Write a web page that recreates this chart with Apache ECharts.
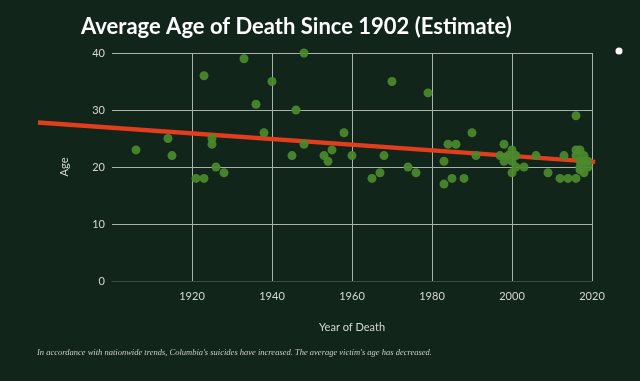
<!DOCTYPE html>
<html><head><meta charset="utf-8">
<script src="https://cdn.jsdelivr.net/npm/echarts@6/dist/echarts.min.js"></script>
<style>html,body{margin:0;padding:0;background:#11251a;}#c{width:640px;height:381px;}</style>
</head><body><div id="c"></div>
<script>
var titleText = 'Average Age of Death Since 1902 (Estimate)';
var footText = "In accordance with nationwide trends, Columbia's suicides have increased. The average victim's age has decreased.";
var xName = 'Year of Death';
var yName = 'Age';
var years = [1906,1914,1915,1921,1923,1923,1925,1925,1926,1928,
  1933,1936,1938,1940,1945,1946,1948,1948,1953,1954,1955,1958,1960,
  1965,1967,1968,1970,1974,1976,1979,1983,1983,1984,1985,1986,1988,1990,1991,
  1997,1998,1998,1999,2000,2000,2000,2001,2001,2003,2006,2009,2012,2013,2014,
  2016,2016,2016,2017,2016,2017,2017,2018,2018,2019,2019,2018,2017];
var ages = [23,25,22,18,18,36,25,24,20,19,
  39,31,26,35,22,30,40,24,22,21,23,26,22,
  18,19,22,35,20,19,33,21,17,24,18,24,18,26,22,
  22,24,21,22,23,21,19,20,22,20,22,19,18,22,18,
  29,18,23,23,22,21,20,21,19,20,21,22,19.5];
var trendYears = [1881.5, 2020.8];
var trendAges = [27.8, 20.9];
var xTicks = {min:1900, max:2020, step:20};
var yTicks = {min:0, max:40, step:10};

var pts = years.map(function(y,i){return [y, ages[i]];});
var trendItem = [[trendYears[0], trendAges[0], trendYears[1], trendAges[1]]];
var chart = echarts.init(document.getElementById('c'), null, {renderer:'canvas'});
var lab = '#d4d8d2';
chart.setOption({
  backgroundColor:'#11251a',
  animation:false,
  title:{text:titleText, left:76, top:11, textStyle:{color:'#ffffff', fontFamily:'Lato', fontWeight:'bold', fontSize:22}},
  grid:{left:112, right:48, top:53, bottom:100},
  xAxis:{type:'value', min:xTicks.min, max:xTicks.max, interval:xTicks.step,
    name:xName, nameLocation:'middle', nameGap:41, nameTextStyle:{color:lab, fontFamily:'Lato', fontSize:11},
    axisLine:{show:true, lineStyle:{color:'#3c4c42'}}, axisTick:{show:false},
    axisLabel:{color:lab, fontFamily:'Lato', fontSize:11, margin:10, showMinLabel:false, formatter:function(v){return String(v);}},
    splitLine:{show:true, showMinLine:false, lineStyle:{color:'#a9b3ab', width:1}}},
  yAxis:{type:'value', min:yTicks.min, max:yTicks.max, interval:yTicks.step,
    name:yName, nameLocation:'middle', nameGap:42, nameRotate:90, nameTextStyle:{color:lab, fontFamily:'Lato', fontSize:11},
    axisLine:{show:false}, axisTick:{show:false},
    axisLabel:{color:lab, fontFamily:'Lato', fontSize:11, margin:7},
    splitLine:{show:true, showMinLine:false, lineStyle:{color:'#a9b3ab', width:1}}},
  series:[
    {type:'custom', data:trendItem, clip:false, z:2,
     renderItem:function(params, api){
       var p1 = api.coord([api.value(0), api.value(1)]);
       var p2 = api.coord([api.value(2), api.value(3)]);
       return {type:'line', shape:{x1:p1[0], y1:p1[1], x2:p2[0], y2:p2[1]},
         style:{stroke:'#e23d1c', lineWidth:4.5, lineCap:'butt'}};
     }},
    {type:'scatter', data:pts, symbolSize:9, z:3, itemStyle:{color:'#4b8a2d', opacity:0.92}}
  ],
  graphic:[
    {type:'circle', shape:{cx:619, cy:51, r:3.5}, style:{fill:'#ffffff'}},
    {type:'text', left:37, top:348, style:{text:footText, fill:'#c9cdc7', font:'italic 8.5px "Liberation Serif"'}}
  ]
});
</script></body></html>
